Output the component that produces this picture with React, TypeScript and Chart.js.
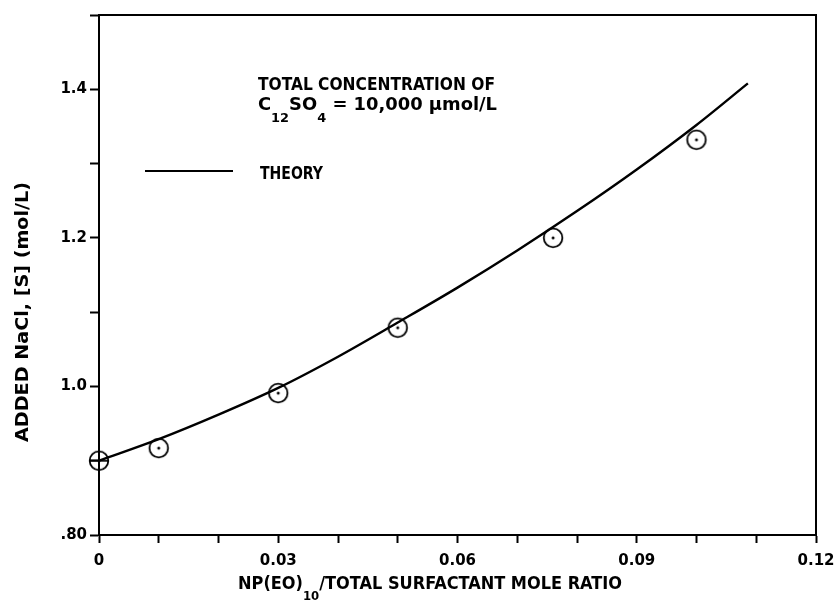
import { useEffect, useRef } from 'react';
import { Chart, registerables } from 'chart.js';
Chart.register(...registerables);

// ---- data ----
const theoryX = [0, 0.01, 0.02, 0.03, 0.04, 0.05, 0.06, 0.07, 0.08, 0.09, 0.1, 0.1086];
const theoryY = [0.9, 0.929, 0.962, 0.998, 1.04, 1.086, 1.133, 1.183, 1.236, 1.292, 1.352, 1.408];
const expX = [0, 0.01, 0.03, 0.05, 0.076, 0.1];
const expY = [0.9, 0.917, 0.991, 1.079, 1.2, 1.332];

const xLabelValues = [0, 0.03, 0.06, 0.09, 0.12];
const xLabelTexts = ['0', '0.03', '0.06', '0.09', '0.12'];
const yLabelValues = [0.8, 1.0, 1.2, 1.4];
const yLabelTexts = ['.80', '1.0', '1.2', '1.4'];

const legendLine1 = 'TOTAL CONCENTRATION OF';
const legendLine2 = [
  { t: 'C', sub: false },
  { t: '12', sub: true },
  { t: 'SO', sub: false },
  { t: '4', sub: true },
  { t: ' = 10,000 μmol/L', sub: false },
];
const legendSeries = 'THEORY';
const xTitleRuns = [
  { t: 'NP(EO)', sub: false },
  { t: '10', sub: true },
  { t: '/TOTAL SURFACTANT MOLE RATIO', sub: false },
];
const yTitle = 'ADDED NaCl, [S] (mol/L)';

const TITLE_FONT = 'bold 18px "DejaVu Sans Condensed", "DejaVu Sans", sans-serif';
const SUB_FONT = 'bold 13px "DejaVu Sans Condensed", "DejaVu Sans", sans-serif';

type Run = { t: string; sub: boolean };

function drawRuns(
  ctx: CanvasRenderingContext2D,
  runs: Run[],
  x: number,
  baseline: number,
  targetWidth: number,
  subDrop: number
) {
  let natural = 0;
  for (const r of runs) {
    ctx.font = r.sub ? SUB_FONT : TITLE_FONT;
    natural += ctx.measureText(r.t).width;
  }
  const sx = targetWidth / natural;
  ctx.save();
  ctx.translate(x, baseline);
  ctx.scale(sx, 1);
  ctx.textBaseline = 'alphabetic';
  ctx.textAlign = 'left';
  ctx.fillStyle = '#000';
  let cx = 0;
  for (const r of runs) {
    ctx.font = r.sub ? SUB_FONT : TITLE_FONT;
    ctx.fillText(r.t, cx, r.sub ? subDrop : 0);
    cx += ctx.measureText(r.t).width;
  }
  ctx.restore();
}

function makeMarker(cross: boolean): HTMLCanvasElement {
  const c = document.createElement('canvas');
  c.width = 26;
  c.height = 26;
  const g = c.getContext('2d')!;
  g.strokeStyle = '#000';
  g.lineWidth = 1.8;
  g.beginPath();
  g.arc(13, 13, 9.3, 0, Math.PI * 2);
  g.stroke();
  g.fillStyle = '#000';
  g.beginPath();
  g.arc(13, 13, 1.5, 0, Math.PI * 2);
  g.fill();
  if (cross) {
    g.beginPath();
    g.moveTo(3, 13);
    g.lineTo(23, 13);
    g.stroke();
  }
  return c;
}

const decorPlugin = {
  id: 'decor',
  afterDraw(chart: any) {
    const ctx: CanvasRenderingContext2D = chart.ctx;
    const { left, right, top, bottom } = chart.chartArea;
    ctx.save();
    ctx.strokeStyle = '#000';
    ctx.lineWidth = 2;
    ctx.beginPath();
    ctx.moveTo(left, top);
    ctx.lineTo(right, top);
    ctx.lineTo(right, bottom);
    ctx.stroke();

    // legend
    ctx.lineWidth = 2;
    ctx.beginPath();
    ctx.moveTo(145, 171);
    ctx.lineTo(233, 171);
    ctx.stroke();
    drawRuns(ctx, [{ t: legendSeries, sub: false }], 260, 179, 63, 0);
    drawRuns(ctx, [{ t: legendLine1, sub: false }], 258, 90, 237, 0);
    drawRuns(ctx, legendLine2, 258, 110, 239, 12);

    // x title
    drawRuns(ctx, xTitleRuns, 238, 589, 384, 11);

    // y title (rotated)
    ctx.save();
    ctx.translate(28, 442);
    ctx.rotate(-Math.PI / 2);
    drawRuns(ctx, [{ t: yTitle, sub: false }], 0, 0, 260, 0);
    ctx.restore();
    ctx.restore();
  },
};

function findLabel(v: number, vals: number[], texts: string[]) {
  for (let i = 0; i < vals.length; i++) {
    if (Math.abs(v - vals[i]) < 1e-6) return texts[i];
  }
  return '';
}

export default function App() {
  const ref = useRef<HTMLCanvasElement | null>(null);
  useEffect(() => {
    if (!ref.current) return;
    const markers = expX.map((_, i) => makeMarker(i === 0));
    const tickFont = { family: '"DejaVu Sans", sans-serif', size: 15, weight: 'bold' as const };
    const chart = new Chart(ref.current, {
      type: 'scatter',
      data: {
        datasets: [
          {
            label: legendSeries,
            data: theoryX.map((x, i) => ({ x, y: theoryY[i] })),
            showLine: true,
            borderColor: '#000',
            borderWidth: 2.4,
            pointRadius: 0,
            cubicInterpolationMode: 'monotone',
            clip: false as any,
            order: 2,
          },
          {
            label: 'data',
            data: expX.map((x, i) => ({ x, y: expY[i] })),
            showLine: false,
            pointStyle: markers as any,
            pointRadius: 10,
            clip: false as any,
            order: 1,
          },
        ],
      },
      options: {
        animation: false,
        responsive: true,
        maintainAspectRatio: false,
        layout: { padding: { top: 15, right: 22, left: 0, bottom: 0 } },
        plugins: { legend: { display: false }, tooltip: { enabled: false } },
        scales: {
          x: {
            type: 'linear',
            min: 0,
            max: 0.12,
            afterFit: (s: any) => {
              s.height = 78;
              s.paddingLeft = 0;
              s.paddingRight = 0;
            },
            border: { color: '#000', width: 2 },
            grid: { drawOnChartArea: false, tickLength: 8, tickColor: '#000', tickWidth: 2 },
            ticks: {
              stepSize: 0.01,
              autoSkip: false,
              maxRotation: 0,
              color: '#000',
              font: tickFont,
              padding: 9,
              callback: (v: any) => findLabel(Number(v), xLabelValues, xLabelTexts),
            },
          },
          y: {
            type: 'linear',
            min: 0.8,
            max: 1.5,
            afterFit: (s: any) => {
              s.width = 99;
              s.paddingTop = 0;
              s.paddingBottom = 0;
            },
            border: { color: '#000', width: 2 },
            grid: { drawOnChartArea: false, tickLength: 9, tickColor: '#000', tickWidth: 2 },
            ticks: {
              stepSize: 0.1,
              autoSkip: false,
              color: '#000',
              font: tickFont,
              padding: 3,
              callback: (v: any) => findLabel(Number(v), yLabelValues, yLabelTexts),
            },
          },
        },
      },
      plugins: [decorPlugin],
    });
    return () => chart.destroy();
  }, []);
  return (
    <div style={{ position: 'absolute', left: 0, top: 0, width: 838, height: 613, background: '#fff' }}>
      <canvas ref={ref} />
    </div>
  );
}
